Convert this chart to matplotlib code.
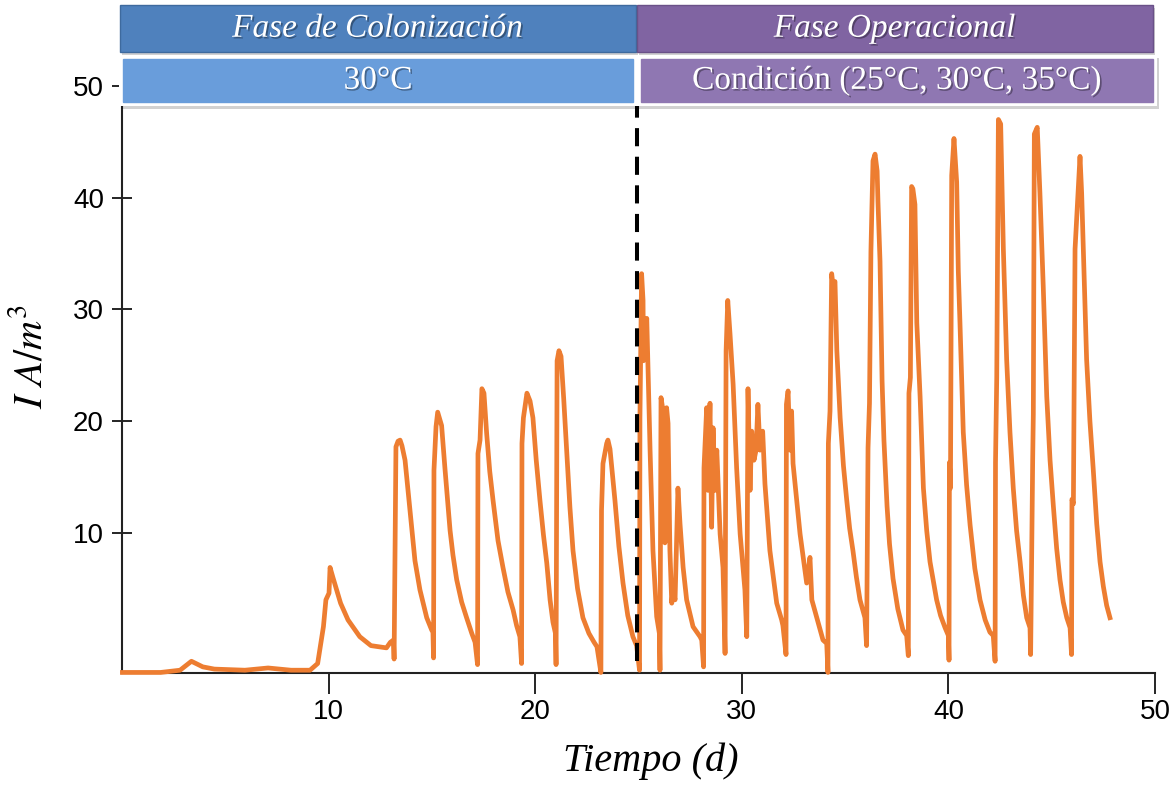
import matplotlib
matplotlib.use("Agg")
import matplotlib.pyplot as plt
import matplotlib.patheffects as pe
from matplotlib.patches import Rectangle

# Fase de colonizacion (30 C): tiempo en dias, corriente en A/m3
tiempo_colonizacion = [
    0.02, 1.87, 2.81, 3.36, 3.91, 4.47, 5.95, 7.07, 8.18, 9.10, 9.47, 9.75,
    9.87, 10.02, 10.07, 10.21, 10.58, 10.94, 11.51, 12.05, 12.80, 12.99, 13.14, 13.17,
    13.26, 13.36, 13.46, 13.55, 13.70, 13.94, 14.18, 14.42, 14.75, 14.99, 15.05, 15.08,
    15.10, 15.20, 15.28, 15.47, 15.63, 15.88, 16.02, 16.20, 16.44, 16.68, 16.93, 17.09, 17.21,
    17.23, 17.33, 17.42, 17.52, 17.65, 17.80, 17.96, 18.20, 18.44, 18.68, 18.93, 19.10,
    19.26, 19.34,
    19.36, 19.43, 19.60, 19.75, 19.89, 20.05, 20.23, 20.40, 20.56, 20.72, 20.86, 20.98, 21.01,
    21.06, 21.15, 21.25, 21.38, 21.52, 21.68, 21.83, 22.05, 22.31, 22.60, 22.85, 22.99, 23.18,
    23.21, 23.28, 23.46, 23.52, 23.62, 23.86, 24.05, 24.25, 24.48, 24.73, 24.91, 25.05]
corriente_colonizacion = [
    -2.5, -2.5, -2.3, -1.5, -2.0, -2.2, -2.3, -2.1, -2.3, -2.3, -1.7, 1.6,
    4.0, 4.6, 6.9, 6.0, 3.7, 2.2, 0.7, -0.1, -0.3, 0.2, 0.4, -1.3,
    17.7, 18.2, 18.3, 17.8, 16.5, 12.0, 7.5, 4.9, 2.4, 1.3, 1.1, -1.2,
    15.6, 19.5, 20.8, 19.6, 15.8, 10.2, 8.0, 5.8, 3.8, 2.4, 1.0, 0.2, -1.8,
    17.1, 18.3, 22.9, 22.5, 18.9, 15.5, 12.9, 9.3, 6.9, 4.7, 3.1, 1.7,
    0.7, -1.7,
    18.0, 20.3, 22.5, 21.8, 20.3, 16.5, 12.9, 9.8, 7.3, 4.0, 2.0, 1.0, -1.8,
    25.4, 26.3, 25.8, 22.0, 17.4, 12.3, 8.4, 5.0, 2.4, 1.0, 0.2, -0.2, -2.5,
    12.0, 16.2, 18.0, 18.3, 17.5, 12.9, 8.8, 5.5, 2.6, 0.7, -0.1, -2.3]

# Fase operacional (25, 30, 35 C)
tiempo_operacional = [
    25.07, 25.15, 25.22, 25.24, 25.40, 25.45, 25.56, 25.70, 25.88, 26.01, 26.04,
    26.09, 26.19, 26.28, 26.36, 26.43, 26.52, 26.61, 26.67, 26.77, 26.91, 27.01,
    27.16, 27.33, 27.64, 27.98, 28.06, 28.15,
    28.17, 28.30, 28.36, 28.46, 28.54, 28.61, 28.70, 28.79, 28.95, 29.09, 29.19,
    29.24, 29.32, 29.43, 29.58, 29.75, 29.92, 30.15, 30.24,
    30.30, 30.40, 30.48, 30.59, 30.69, 30.78, 30.88, 31.01, 31.12, 31.36, 31.69,
    31.93, 31.99, 32.14,
    32.16, 32.24, 32.33, 32.41, 32.48, 32.82, 33.14, 33.30, 33.39, 33.63, 33.93,
    34.11, 34.17,
    34.19, 34.27, 34.35, 34.42, 34.51, 34.60, 34.76, 34.92, 35.08, 35.22, 35.38,
    35.55, 35.72, 35.96, 36.04,
    36.11, 36.18, 36.25, 36.35, 36.45, 36.55, 36.59, 36.69, 36.79, 36.88, 37.03,
    37.15, 37.32, 37.55, 37.80, 37.98, 38.06,
    38.09, 38.16, 38.22, 38.28, 38.38, 38.47, 38.63, 38.79, 38.95, 39.11, 39.43,
    39.62, 39.84, 40.00, 40.03,
    40.05, 40.10, 40.16, 40.27, 40.40, 40.48, 40.56, 40.72, 40.88, 41.05, 41.28,
    41.53, 41.78, 42.01, 42.17, 42.26,
    42.28, 42.34, 42.42, 42.53, 42.66, 42.82, 42.98, 43.14, 43.30, 43.47, 43.63,
    43.79, 43.95, 43.98,
    44.08, 44.11, 44.16, 44.30, 44.43, 44.59, 44.76, 44.92, 45.08, 45.24, 45.40,
    45.56, 45.73, 45.89, 45.96,
    45.98, 46.05, 46.13, 46.37, 46.45, 46.53, 46.69, 46.85, 47.01, 47.18, 47.34,
    47.50, 47.66, 47.82]
corriente_operacional = [
    20.3, 33.2, 30.8, 25.4, 29.2, 25.4, 17.4, 8.4, 2.5, 1.0, -2.3,
    22.1, 20.9, 9.1, 21.2, 19.8, 8.4, 3.7, 4.9, 4.0, 14.0, 10.8,
    6.9, 4.0, 1.6, 0.7, 0.4, -2.0,
    15.8, 21.2, 13.8, 21.6, 10.5, 19.4, 13.8, 17.4, 9.9, 6.9, -0.8,
    26.3, 30.8, 27.8, 23.3, 15.8, 9.9, 4.9, 0.7,
    22.9, 13.8, 19.1, 16.5, 17.4, 21.5, 17.4, 19.1, 14.4, 8.4, 3.7,
    2.2, 1.7, -0.9,
    21.5, 22.7, 17.4, 20.9, 16.2, 9.9, 5.5, 7.8, 4.0, 2.4, 0.4,
    0.1, -2.5,
    18.0, 20.9, 33.2, 32.1, 32.5, 26.3, 20.3, 16.0, 12.9, 10.4, 8.4,
    6.0, 4.0, 2.4, -0.1,
    17.6, 21.6, 35.2, 43.3, 43.9, 42.4, 39.7, 34.3, 23.6, 18.3, 12.4,
    9.0, 5.9, 3.2, 1.3, 0.8, -1.0,
    22.5, 23.9, 41.0, 40.8, 39.4, 28.8, 22.2, 14.0, 10.2, 7.4, 4.0,
    2.6, 1.5, 0.8, -1.4,
    16.3, 14.0, 42.0, 45.3, 41.4, 33.4, 28.8, 19.0, 14.3, 10.7, 6.8,
    4.0, 2.2, 1.1, 0.8, -1.5,
    16.3, 23.9, 47.0, 46.6, 35.4, 25.5, 19.0, 14.0, 10.2, 7.4, 4.4,
    2.4, 1.5, -0.9,
    16.6, 20.6, 45.7, 46.3, 40.4, 32.1, 22.2, 16.5, 12.4, 8.6, 5.8,
    3.8, 2.4, 1.5, -0.9,
    13.0, 12.6, 35.4, 43.7, 40.4, 35.4, 25.5, 20.0, 15.7, 10.8, 7.4,
    5.2, 3.5, 2.4]

cambio_fase = 24.95  # dia en que empieza la fase operacional
x_ticks = [10, 20, 30, 40, 50]
y_ticks = [10, 20, 30, 40, 50]

W, H = 1172, 788
plt.rcParams['font.family'] = ['Liberation Sans', 'DejaVu Sans']
plt.rcParams['mathtext.fontset'] = 'stix'

fig = plt.figure(figsize=(W / 100, H / 100), dpi=100)
ax = fig.add_axes([122 / W, 1 - 673 / H, (1155 - 122) / W, (673 - 86) / H])

ax.plot(tiempo_colonizacion + tiempo_operacional,
        corriente_colonizacion + corriente_operacional,
        color='#ED7D31', lw=3.4, solid_joinstyle='round', clip_on=False, zorder=3)
ax.axvline(cambio_fase, ymin=0.02, ymax=1, color='black', lw=2.9,
           dashes=(4.5, 2.6), zorder=4)

ax.set_xlim(0, 50)
ax.set_ylim(-2.55, 49.9)
ax.set_xticks(x_ticks)
ax.set_yticks(y_ticks)
ax.tick_params(axis='x', direction='out', length=15, width=1.2, pad=4, labelsize=20)
ax.tick_params(axis='y', direction='inout', length=14, width=1.2, pad=6, labelsize=20)
for s in ['top', 'right']:
    ax.spines[s].set_visible(False)
for s in ['left', 'bottom']:
    ax.spines[s].set_linewidth(1.5)
    ax.spines[s].set_color('#222222')

ax.set_xlabel('Tiempo (d)', family='Liberation Serif', style='italic', fontsize=29)
ax.xaxis.set_label_coords(0.512, -0.118)
fig.text(30 / W, 1 - 357 / H, r'$I\ A/m^3$', fontsize=29, rotation=90,
         ha='center', va='center')


# cabeceras de las fases (coordenadas en pixeles de la figura)
def caja(x0, y0, x1, y1, color, borde, texto, italic, marco=0):
    fig.patches.append(Rectangle(((x0 + 2) / W, 1 - (y1 + 3) / H), (x1 - x0) / W,
                                 (y1 - y0) / H, transform=fig.transFigure,
                                 facecolor='#000000', alpha=0.18, lw=0, zorder=5))
    if marco:
        fig.patches.append(Rectangle((x0 / W, 1 - y1 / H), (x1 - x0) / W, (y1 - y0) / H,
                                     transform=fig.transFigure, facecolor='white',
                                     lw=0, zorder=5))
    fig.patches.append(Rectangle(((x0 + marco) / W, 1 - (y1 - marco) / H),
                                 (x1 - x0 - 2 * marco) / W, (y1 - y0 - 2 * marco) / H,
                                 transform=fig.transFigure, facecolor=color,
                                 edgecolor=borde, lw=1.0, zorder=5))
    fig.text((x0 + x1) / 2 / W, 1 - (y0 + y1) / 2 / H, texto, color='white',
             family='Liberation Serif', style='italic' if italic else 'normal',
             fontsize=24, ha='center', va='center', zorder=6,
             path_effects=[pe.withSimplePatchShadow(offset=(1.2, -1.2),
                                                    shadow_rgbFace='black', alpha=0.35)])


caja(120, 5, 636, 52, '#4F81BD', '#3E6A9E', 'Fase de Colonización', True)
caja(637, 5, 1153, 52, '#8064A2', '#6A5188', 'Fase Operacional', True)
caja(119, 55, 637, 106, '#699DDB', '#699DDB', '30°C', False, marco=4)
caja(637, 55, 1157, 106, '#8F77B2', '#8F77B2', 'Condición (25°C, 30°C, 35°C)', False, marco=4)

fig.savefig('out.png', dpi=100)
